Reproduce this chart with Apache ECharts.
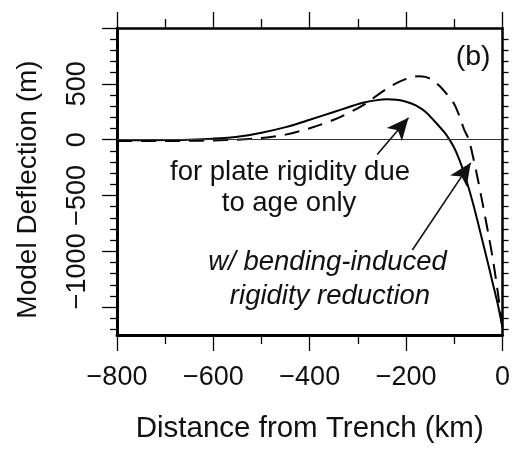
<!DOCTYPE html>
<html>
<head>
<meta charset="utf-8">
<script src="https://cdn.jsdelivr.net/npm/echarts@6/dist/echarts.min.js"></script>
<style>html,body{margin:0;padding:0;background:#fff}#c{width:513px;height:449px}</style>
</head>
<body>
<div id="c"></div>
<script>
// Distance from trench (km) and model deflection (m)
var solidX = [-800,-750,-700,-650,-600,-550,-500,-450,-400,-350,-320,-290,-260,-240,-220,-200,-180,-160,-140,-120,-110,-100,-90,-80,-70,-60,-50,-40,-30,-20,-10,0];
var solidY = [-7,-6,-4,0,9,26,62,112,178,248,290,330,354,361,357,340,307,250,160,62,0,-75,-175,-295,-435,-590,-760,-935,-1110,-1290,-1470,-1680];
var dashX = [-800,-750,-700,-650,-600,-550,-500,-450,-400,-350,-300,-275,-250,-225,-205,-190,-175,-160,-145,-130,-115,-100,-90,-80,-70,-60,-50,-40,-30,-20,-10,0];
var dashY = [-12,-13,-13,-11,-7,0,15,45,102,178,282,350,428,495,535,556,568,562,535,478,405,318,218,95,0,-175,-380,-600,-830,-1070,-1360,-1690];
var xTicks = [-800,-600,-400,-200,0];
var yLabels = [-1000,-500,0,500];
var yMajor = [-1500,-1000,-500,0,500,1000];
var yMinor = [-1700,-1600,-1400,-1300,-1200,-1100,-900,-800,-700,-600,-400,-300,-200,-100,100,200,300,400,600,700,800,900];
var yAll = [-1700,-1600,-1500,-1400,-1300,-1200,-1100,-1000,-900,-800,-700,-600,-500,-400,-300,-200,-100,0,100,200,300,400,500,600,700,800,900];
var arrows = [
  {from: [-260, -134], to: [-195, 196]},
  {from: [-187, -988], to: [-66, -208]}
];
var notes = [
  {text: 'for plate rigidity due', at: [-441, -295], italic: false, size: 27.5},
  {text: 'to age only', at: [-443, -571], italic: false, size: 27.5},
  {text: 'w/ bending-induced', at: [-363, -1098], italic: true, size: 27.5},
  {text: 'rigidity reduction', at: [-358, -1402], italic: true, size: 27.5},
  {text: '(b)', at: [-61, 741], italic: false, size: 28.5}
];

function zip(a, b) { return a.map(function (v, i) { return [v, b[i]]; }); }
function minus(v) { return String(v).replace('-', '\u2212'); }
var FF = '"Liberation Sans", Arial, Helvetica, sans-serif';

var chart = echarts.init(document.getElementById('c'), null, {renderer: 'canvas'});
var option = {
  animation: false,
  backgroundColor: '#fff',
  grid: {left: 117, right: 6, top: 28, bottom: 113, containLabel: false},
  xAxis: [
    {
      type: 'value', position: 'bottom', min: -800, max: 0, interval: 200,
      axisLine: {onZero: false, lineStyle: {color: '#000', width: 3}},
      axisTick: {show: true, length: 16, lineStyle: {color: '#000', width: 1.3}},
      minorTick: {show: true, splitNumber: 2, length: 9, lineStyle: {color: '#000', width: 1.3}},
      splitLine: {show: false},
      axisLabel: {fontSize: 27, color: '#111', fontFamily: FF, margin: 29, formatter: minus,
                  customValues: xTicks},
      name: 'Distance from Trench (km)', nameLocation: 'middle', nameGap: 79,
      nameTextStyle: {fontSize: 29.5, color: '#111', fontFamily: FF}
    },
    {
      type: 'value', position: 'top', min: -800, max: 0, interval: 200,
      axisLine: {onZero: false, lineStyle: {color: '#000', width: 2.5}},
      axisTick: {show: true, length: 16, lineStyle: {color: '#000', width: 1.3}},
      minorTick: {show: true, splitNumber: 2, length: 9, lineStyle: {color: '#000', width: 1.3}},
      splitLine: {show: false},
      axisLabel: {show: false}
    }
  ],
  yAxis: [
    {
      type: 'value', position: 'left', min: -1750, max: 1000,
      axisLine: {show: true, onZero: false, lineStyle: {color: '#000', width: 3}},
      axisTick: {show: true, length: 15, customValues: yMajor, lineStyle: {color: '#000', width: 1.3}},
      splitLine: {show: false},
      axisLabel: {
        show: true, customValues: yLabels, rotate: 90, fontSize: 27, color: '#111', fontFamily: FF, margin: 26,
        formatter: function (v) { return v === -1000 ? '{s|' + minus(v) + '}' : minus(v); },
        rich: {s: {fontSize: 27, color: '#111', fontFamily: FF, padding: [0, 40, 0, 0]}}
      },
      name: 'Model Deflection (m)', nameLocation: 'middle', nameGap: 75,
      nameTextStyle: {fontSize: 28, color: '#111', fontFamily: FF, padding: [0, 16, 0, 0]}
    },
    {
      type: 'value', position: 'left', min: -1750, max: 1000,
      axisLine: {show: false, onZero: false},
      axisTick: {show: true, length: 7, customValues: yMinor, lineStyle: {color: '#000', width: 1.3}},
      splitLine: {show: false},
      axisLabel: {show: false}
    },
    {
      type: 'value', position: 'right', min: -1750, max: 1000,
      axisLine: {show: true, onZero: false, lineStyle: {color: '#000', width: 2.5}},
      axisTick: {show: true, length: 6, customValues: yAll, lineStyle: {color: '#000', width: 1.3}},
      splitLine: {show: false},
      axisLabel: {show: false}
    }
  ],
  series: [
    {
      name: 'solid', type: 'line', xAxisIndex: 0, yAxisIndex: 0,
      data: zip(solidX, solidY), smooth: 0.3, showSymbol: false, silent: true,
      lineStyle: {color: '#000', width: 2},
      markLine: {
        silent: true, animation: false, label: {show: false},
        data: [
          [{coord: [-800, 0], symbol: 'none', lineStyle: {color: '#333', width: 1, type: 'solid'}},
           {coord: [0, 0], symbol: 'none'}]
        ].concat(arrows.map(function (a) {
          return [{coord: a.from, symbol: 'none', lineStyle: {color: '#111', width: 1.6, type: 'solid'}},
                  {coord: a.to, symbol: 'arrow', symbolSize: [15, 22]}];
        })),
        itemStyle: {color: '#111'}
      }
    },
    {
      name: 'dashed', type: 'line', xAxisIndex: 0, yAxisIndex: 0,
      data: zip(dashX, dashY), smooth: 0.3, showSymbol: false, silent: true,
      lineStyle: {color: '#000', width: 2, type: [15, 9]}
    }
  ]
};
chart.setOption(option);

var g = notes.map(function (n) {
  var p = chart.convertToPixel({xAxisIndex: 0, yAxisIndex: 0}, n.at);
  return {
    type: 'text', x: p[0], y: p[1], silent: true,
    style: {text: n.text, fill: '#111', align: 'center', verticalAlign: 'middle',
            fontSize: n.size, fontFamily: FF, fontStyle: n.italic ? 'italic' : 'normal'}
  };
});
chart.setOption({graphic: g});
</script>
</body>
</html>
